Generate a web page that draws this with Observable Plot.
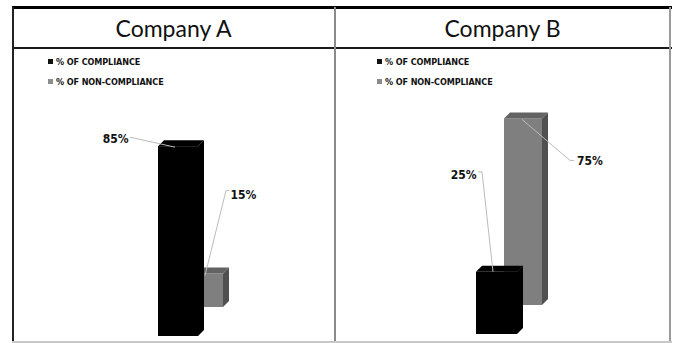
<!DOCTYPE html>
<html>
<head>
<meta charset="utf-8">
<script src="https://cdn.jsdelivr.net/npm/d3@7"></script>
<script src="https://cdn.jsdelivr.net/npm/@observablehq/plot@0.6"></script>
<style>
  html, body { margin: 0; padding: 0; background: #fff; }
  #root { position: relative; width: 673px; height: 343px; overflow: hidden; background: #fff; }
  .ln { position: absolute; }
  .hdr { position: absolute; top: 9px; height: 38px; line-height: 38px; text-align: center;
         font-family: Lato, "Open Sans", sans-serif; font-size: 23px; color: #111; }
  .leg { position: absolute; font-family: "Liberation Sans Narrow", "DejaVu Sans Condensed", sans-serif;
         font-weight: bold; font-size: 9px; color: #111; line-height: 10px; white-space: nowrap; letter-spacing: -0.1px; }
  .sw { display: inline-block; width: 5px; height: 5px; margin-right: 3px; vertical-align: 1px; }
  .plot { position: absolute; top: 49px; }
</style>
</head>
<body>
<div id="root">
  <div class="ln" style="left:12px;top:6px;width:660px;height:2.5px;background:#000"></div>
  <div class="ln" style="left:12px;top:46.5px;width:660px;height:2px;background:#1a1a1a"></div>
  <div class="ln" style="left:12px;top:7px;width:1.5px;height:335px;background:#222"></div>
  <div class="ln" style="left:334px;top:7px;width:2px;height:335px;background:#8a8a8a"></div>
  <div class="ln" style="left:669px;top:7px;width:2px;height:335px;background:#9a9a9a"></div>
  <div class="ln" style="left:12px;top:341px;width:660px;height:1.5px;background:#c8c8c8"></div>
  <div id="hA" class="hdr" style="left:13px;width:321px"></div>
  <div id="hB" class="hdr" style="left:336px;width:333px"></div>
  <div id="legA"></div>
  <div id="legB"></div>
  <div id="pA" class="plot" style="left:12px"></div>
  <div id="pB" class="plot" style="left:335px"></div>
</div>
<script>
// ---- data ----
const companies = ["Company A", "Company B"];
const series = ["% OF COMPLIANCE", "% OF NON-COMPLIANCE"];
const compliance = [85, 25];
const nonCompliance = [15, 75];
const axisMax = [90, 80];

// ---- styles ----
const colors = ["#000000", "#7f7f7f"];
const sideColors = ["#000000", "#505050"];
const topColors = ["#000000", "#636363"];
const backShift = { dx: 28, dy: -29 };   // depth offset of the back series
const depth = 6;                          // 3D extrusion size
const LABEL_FONT = '"Liberation Sans Narrow", "DejaVu Sans Condensed", sans-serif';

// per-chart layout: band position, baseline, label placement relative to bar top-centre
const layouts = [
  { left: 12, width: 323, marginLeft: 146, bandW: 40, marginBottom: 5,
    labels: [
      { dx: -50, dy: -8, anchor: "end", leader: [[-48, -9], [-3, 1]] },
      { dx: 25.5, dy: -79, anchor: "start", leader: [[24.5, -83], [21.5, -83], [0.5, 2]] }
    ] },
  { left: 335, width: 335, marginLeft: 141, bandW: 41, marginBottom: 7,
    labels: [
      { dx: -20.5, dy: -97, anchor: "end", leader: [[-18.5, -100], [-14.5, -100], [-3.5, 0]] },
      { dx: 53.5, dy: 42, anchor: "start", leader: [[51, 42], [47, 42], [-1, 1]] }
    ] }
];

document.getElementById("hA").textContent = companies[0];
document.getElementById("hB").textContent = companies[1];

function legend(id, left) {
  const el = document.getElementById(id);
  series.forEach((s, j) => {
    const d = document.createElement("div");
    d.className = "leg";
    d.style.left = left + "px";
    d.style.top = (57 + j * 20) + "px";
    const sw = document.createElement("span");
    sw.className = "sw";
    sw.style.background = j === 0 ? "#111" : "#8c8c8c";
    d.appendChild(sw);
    d.appendChild(document.createTextNode(s));
    el.appendChild(d);
  });
}
legend("legA", 48);
legend("legB", 377);

function chart(i) {
  const L = layouts[i];
  const H = 292;
  const name = companies[i];
  const rows = [
    { company: name, series: series[0], value: compliance[i], k: 0 },
    { company: name, series: series[1], value: nonCompliance[i], k: 1 }
  ];
  const inset = [0, 3];
  const shift = k => (k === 1 ? backShift : { dx: 0, dy: 0 });

  // 3D top + side faces drawn with the plot's scales
  const faces = k => (index, scales) => {
    const g = d3.create("svg:g");
    const sx = scales.x, sy = scales.y;
    const bw = typeof sx.bandwidth === "function" ? sx.bandwidth() : L.bandW;
    const r = rows[k], s = shift(k);
    const x0 = sx(r.company) + s.dx, x1 = x0 + bw - inset[k];
    const yt = sy(r.value) + s.dy, yb = sy(0) + s.dy;
    g.append("path")
      .attr("d", `M${x1},${yt}L${x1 + depth},${yt - depth}L${x1 + depth},${yb - depth}L${x1},${yb}Z`)
      .attr("fill", sideColors[k]);
    g.append("path")
      .attr("d", `M${x0},${yt}L${x0 + depth},${yt - depth}L${x1 + depth},${yt - depth}L${x1},${yt}Z`)
      .attr("fill", topColors[k]);
    return g.node();
  };

  const leaders = (index, scales) => {
    const g = d3.create("svg:g");
    const sx = scales.x, sy = scales.y;
    const bw = typeof sx.bandwidth === "function" ? sx.bandwidth() : L.bandW;
    rows.forEach((r, k) => {
      const s = shift(k);
      const cx = sx(r.company) + s.dx + (bw - inset[k]) / 2;
      const cy = sy(r.value) + s.dy;
      g.append("path")
        .attr("d", d3.line()(L.labels[k].leader.map(([a, b]) => [cx + a, cy + b])))
        .attr("fill", "none").attr("stroke", "#bbbbbb").attr("stroke-width", 1);
    });
    return g.node();
  };

  const barMark = k => Plot.barY([rows[k]], {
    x: "company", y: "value", fill: colors[k],
    dx: shift(k).dx, dy: shift(k).dy, insetRight: inset[k]
  });
  const labelMark = k => {
    const s = shift(k);
    const lab = L.labels[k];
    return Plot.text([rows[k]], {
      x: "company", y: "value", text: d => d.value + "%",
      dx: s.dx + (L.bandW - inset[k]) / 2 - L.bandW / 2 + lab.dx,
      dy: s.dy + lab.dy,
      textAnchor: lab.anchor, fill: "#111",
      fontSize: 12, fontWeight: "bold", fontFamily: LABEL_FONT
    });
  };

  return Plot.plot({
    width: L.width, height: H,
    marginLeft: L.marginLeft, marginRight: L.width - L.marginLeft - L.bandW,
    marginTop: 86, marginBottom: L.marginBottom,
    x: { type: "band", domain: [name], padding: 0, axis: null },
    y: { domain: [0, axisMax[i]], axis: null },
    style: { background: "transparent", overflow: "visible" },
    marks: [
      barMark(1), faces(1),
      barMark(0), faces(0),
      leaders,
      labelMark(0), labelMark(1)
    ]
  });
}

document.getElementById("pA").appendChild(chart(0));
document.getElementById("pB").appendChild(chart(1));
</script>
</body>
</html>
